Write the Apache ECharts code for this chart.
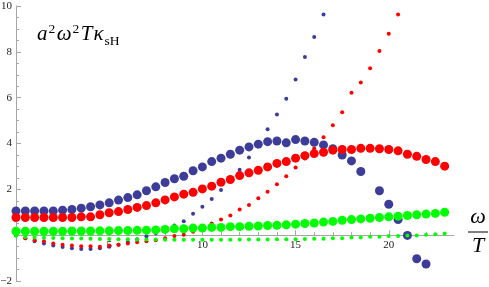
<!DOCTYPE html>
<html>
<head>
<meta charset="utf-8">
<script src="https://cdn.jsdelivr.net/npm/echarts@6/dist/echarts.min.js"></script>
<style>html,body{margin:0;padding:0;background:#fff;}#c{width:489px;height:287px;}</style>
</head>
<body>
<div id="c"></div>
<script>
// x positions (omega/T)
var xs = [0,0.5,1,1.5,2,2.5,3,3.5,4,4.5,5,5.5,6,6.5,7,7.5,8,8.5,9,9.5,10,10.5,11,11.5,12,12.5,13,13.5,14,14.5,15,15.5,16,16.5,17,17.5,18,18.5,19,19.5,20,20.5,21,21.5,22,22.5,23];
// large markers
var blueBig = [1.06,1.06,1.06,1.06,1.06,1.09,1.12,1.18,1.24,1.32,1.41,1.53,1.64,1.76,1.94,2.11,2.30,2.46,2.57,2.81,2.98,3.21,3.36,3.53,3.71,3.85,3.97,4.08,4.11,4.03,4.17,4.11,4.05,3.94,3.77,3.50,3.24,2.78,null,1.94,1.35,0.68,-0.01,-1.03,-1.26];
var redBig = [0.77,0.77,0.77,0.77,0.77,0.77,0.77,0.80,0.80,0.89,0.98,1.03,1.12,1.21,1.29,1.41,1.54,1.67,1.79,1.87,2.02,2.14,2.31,2.43,2.60,2.72,2.83,2.98,3.13,3.21,3.36,3.47,3.56,3.62,3.71,3.74,3.74,3.79,3.79,3.77,3.74,3.68,3.53,3.44,3.30,3.21,3.01];
var greenBig = [0.17,0.17,0.17,0.17,0.17,0.17,0.18,0.18,0.18,0.19,0.19,0.20,0.20,0.21,0.22,0.23,0.25,0.28,0.28,0.31,0.31,0.34,0.34,0.37,0.37,0.39,0.40,0.42,0.43,0.45,0.48,0.51,0.53,0.57,0.60,0.65,0.68,0.71,0.74,0.77,0.80,0.83,0.86,0.89,0.92,0.95,1.00];
// small markers
var blueSmall = [0.00,-0.13,-0.26,-0.36,-0.45,-0.52,-0.57,-0.60,-0.60,-0.57,-0.50,-0.42,-0.30,-0.18,-0.05,0.08,0.23,0.42,0.61,0.93,1.24,1.58,1.97,2.35,2.86,3.39,3.95,4.62,5.27,5.95,6.79,7.78,8.65,9.63];
var redSmall = [0.00,-0.13,-0.22,-0.27,-0.36,-0.42,-0.45,-0.48,-0.48,-0.51,-0.45,-0.42,-0.36,-0.31,-0.27,-0.22,-0.13,-0.04,0.02,0.15,0.30,0.51,0.68,0.86,1.12,1.32,1.61,1.90,2.22,2.57,2.95,3.35,3.78,4.27,4.80,5.36,6.21,6.66,7.28,8.04,8.79,9.63];
var greenSmall = [-0.02,-0.08,-0.10,-0.11,-0.12,-0.13,-0.14,-0.15,-0.16,-0.17,-0.17,-0.18,-0.18,-0.19,-0.19,-0.19,-0.20,-0.20,-0.20,-0.20,-0.20,-0.20,-0.20,-0.20,-0.19,-0.19,-0.19,-0.19,-0.18,-0.18,-0.18,-0.17,-0.16,-0.16,-0.13,-0.13,-0.10,-0.10,-0.07,-0.07,-0.04,-0.04,-0.01,-0.01,0.02,0.04,0.07];
// ticks
var xMajorTicks = [5,10,15,20];
var xMinorTicks = [1,2,3,4,6,7,8,9,11,12,13,14,16,17,18,19,21,22,23];

var BLUE = '#3d3d99', RED = '#ff0000', GREEN = '#00ff00';
var SERIF = '"Liberation Serif","Times New Roman",serif';

function pts(vals){ return vals.map(function(v,i){ return [xs[i], v]; }); }
function sc(name, vals, color, size){
  return {type:'scatter', name:name, data:pts(vals), symbol:'circle', symbolSize:size,
    itemStyle:{color:color, opacity:1}, silent:true, animation:false, xAxisIndex:0, yAxisIndex:0};
}

var ctx = document.createElement('canvas').getContext('2d');
function tw(txt, font){ ctx.font = font; return ctx.measureText(txt).width; }

var fMain = 'italic 21px ' + SERIF;
var fSmall = '13.5px ' + SERIF;
var parts = [
  {t:'a', f:fMain, dy:0, gap:1},
  {t:'2', f:fSmall, dy:-9, gap:1.5},
  {t:'\u03c9', f:fMain, dy:0, gap:1},
  {t:'2', f:fSmall, dy:-9, gap:1.5},
  {t:'T', f:fMain, dy:0, gap:1},
  {t:'\u03ba', f:fMain, dy:0, gap:1},
  {t:'sH', f:fSmall, dy:3, gap:0}
];
var gx = 37, baseY = 45, graphics = [];
parts.forEach(function(p){
  graphics.push({type:'text', silent:true, style:{x:gx, y:baseY + p.dy, text:p.t, font:p.f, fill:'#000', verticalAlign:'bottom', align:'left'}});
  gx += tw(p.t, p.f) + p.gap;
});
// omega / T
graphics.push({type:'text', silent:true, style:{x:478, y:228, text:'\u03c9', font:'italic 22px ' + SERIF, fill:'#000', align:'center', verticalAlign:'bottom'}});
graphics.push({type:'line', silent:true, shape:{x1:468, y1:232, x2:488, y2:232}, style:{stroke:'#000', lineWidth:1}});
graphics.push({type:'text', silent:true, style:{x:478, y:257, text:'T', font:'italic 22px ' + SERIF, fill:'#000', align:'center', verticalAlign:'bottom'}});

// main plot frame
var H = 287, GL = 16, GR = 35, GT = 6, GB = 6;
var yMin = -2, yMax = 10;
// helper grid whose bottom edge sits at y = 0 of the main grid (carries the x axis)
var y0px = GT + (H - GT - GB) * (yMax - 0) / (yMax - yMin);
var GB2 = H - y0px;

var axisCol = '#a6a6a6';
var chart = echarts.init(document.getElementById('c'), null, {renderer:'canvas'});
chart.setOption({
  animation:false,
  backgroundColor:'#fff',
  grid:[
    {left:GL, right:GR, top:GT, bottom:GB, containLabel:false, outerBoundsMode:'none'},
    {left:GL, right:GR, top:GT, bottom:GB2, containLabel:false, outerBoundsMode:'none'}
  ],
  xAxis:[{
    gridIndex:0, type:'value', min:0, max:23.5, show:false
  },{
    gridIndex:1, type:'value', min:0, max:23.5, interval:5, position:'bottom',
    axisLine:{show:true, onZero:false, lineStyle:{color:axisCol, width:1}},
    axisTick:{show:true, inside:true, length:5, customValues:xMajorTicks, lineStyle:{color:axisCol}},
    axisLabel:{show:true, margin:4, fontFamily:SERIF, fontSize:11, color:'#222',
      showMinLabel:true, showMaxLabel:true, hideOverlap:false,
      formatter:function(v){ return xMajorTicks.indexOf(v) >= 0 ? String(v) : ''; }},
    splitLine:{show:false}
  },{
    gridIndex:1, type:'value', min:0, max:23.5, position:'bottom',
    axisLine:{show:false, onZero:false},
    axisTick:{show:true, inside:true, length:3, customValues:xMinorTicks, lineStyle:{color:axisCol}},
    axisLabel:{show:false},
    splitLine:{show:false}
  }],
  yAxis:[{
    gridIndex:0, type:'value', min:yMin, max:yMax, interval:2,
    axisLine:{show:true, onZero:false, lineStyle:{color:axisCol, width:1}},
    axisTick:{show:true, inside:true, length:5, lineStyle:{color:axisCol}},
    minorTick:{show:true, splitNumber:4, length:3, lineStyle:{color:axisCol}},
    axisLabel:{show:true, margin:4, fontFamily:SERIF, fontSize:11, color:'#222',
      formatter:function(v){ if(v===0) return ''; return v<0 ? '\u2212'+(-v) : String(v); }},
    splitLine:{show:false}
  },{
    gridIndex:1, type:'value', min:0, max:1, show:false
  }],
  series:[
    sc('blueBig', blueBig, BLUE, 9),
    sc('blueSmall', blueSmall, BLUE, 4),
    sc('redBig', redBig, RED, 9),
    sc('redSmall', redSmall, RED, 4),
    sc('greenBig', greenBig, GREEN, 9),
    sc('greenSmall', greenSmall, GREEN, 4)
  ],
  graphic:graphics
});
</script>
</body>
</html>
